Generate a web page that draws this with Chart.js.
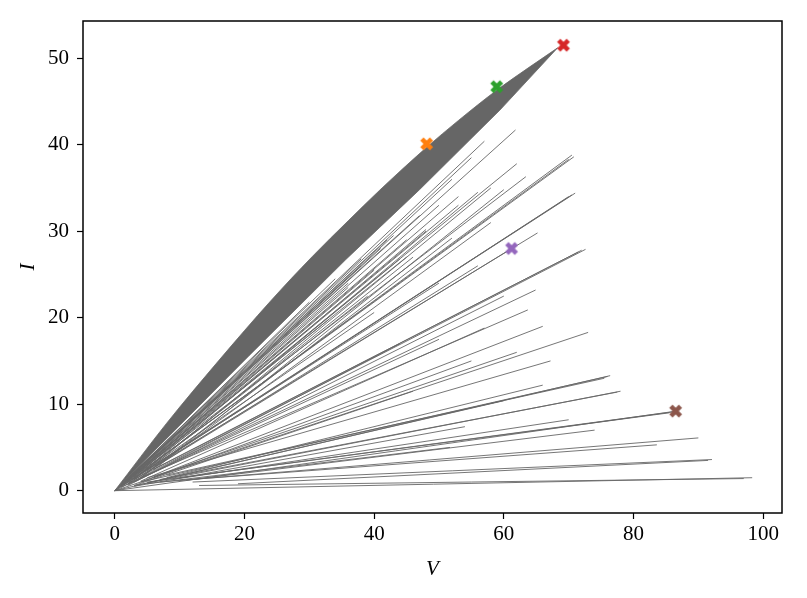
<!DOCTYPE html>
<html>
<head>
<meta charset="utf-8">
<script src="https://cdn.jsdelivr.net/npm/chart.js@4.4.0/dist/chart.umd.min.js"></script>
<style>
  html, body { margin: 0; padding: 0; background: #fff; }
  #wrap { width: 807px; height: 598px; }
</style>
</head>
<body>
<div id="wrap"><canvas id="chart" width="807" height="598"></canvas></div>
<script>
// upper and lower edge of the dense grey band
const bandUpperV = [0, 8, 16.1, 24, 30.5, 36, 40.8, 48.1, 53, 58.9, 64, 68.3];
const bandUpperI = [0, 7.8, 15.1, 21.9, 27.1, 31.2, 34.7, 39.7, 42.8, 46.3, 49.0, 51.2];
const bandLowerV = [0, 20.7, 35.6, 47.0, 59.4, 68.3];
const bandLowerI = [0, 15.6, 26.7, 34.8, 44.0, 51.2];

// single traces (start point -> end point)
const lineStartV = [0, 1, 0.5, 2, 1, 0, 2, 4, 1.5, 0, 3, 6, 1, 0, 3, 6, 2, 1, 4, 0, 5, 0, 4, 8, 3, 7, 0, 5, 10, 7, 10, 12, 19, 0, 13,
  3, 3, 5, 1, 2, 1, 2, 4, 3, 2, 6, 4, 1, 0.5, 2, 1,
  0.5, 1, 1.5, 2, 0.5, 1, 3, 2, 1, 2.5, 1.5, 3, 4, 2, 1, 5, 3, 2, 6, 4,
  2, 4, 6, 3, 8, 5, 9, 11];
const lineStartI = [0, 0.8, 0.3, 1.4, 0.6, 0, 1, 2.2, 0.9, 0, 1.5, 2.8, 0.5, 0, 1.3, 2.5, 0.8, 0.4, 1.5, 0, 1.5, 0, 1, 1.8, 0.6, 1.3, 0, 1, 1.5, 1, 1.2, 1, 0.8, 0, 0.6,
  1.5, 0.5, 0.8, 0.7, 1.2, 0.5, 0.8, 1.5, 1, 0.6, 1.5, 1, 0.7, 0.4, 1.3, 0.6,
  0.35, 0.7, 1.0, 1.4, 0.3, 0.6, 1.9, 1.2, 0.6, 1.5, 0.8, 1.6, 2.0, 1.0, 0.5, 2.3, 1.3, 0.8, 2.4, 1.5,
  0.7, 1.1, 1.6, 0.6, 1.5, 0.9, 1.3, 1.2];
const lineEndV = [61.8, 57, 55, 52, 62, 70.8, 70.5, 70, 63.4, 71, 70.5, 70, 65.2, 72.6, 72, 71.5, 61.2, 64.9, 63.7, 73, 67.2, 76.4, 76, 75.5, 78, 77.5, 86.6, 86, 85.5, 90, 83.6, 92.1, 91.5, 98.3, 97,
  40, 54, 51.7, 48, 45, 50, 56, 58, 44, 60, 55, 66, 42, 38, 36, 53,
  34, 38, 43, 47, 30, 41, 50, 45, 36, 53, 40, 48, 56, 44, 33, 58, 46, 39, 60, 52,
  50, 57, 62, 46, 66, 60, 70, 74];
const lineEndI = [41.7, 40.4, 38.5, 36, 37.8, 38.6, 38.8, 38.3, 36.3, 34.4, 34.2, 34, 29.8, 27.9, 27.8, 27.6, 28, 23.2, 20.9, 18.3, 15, 13.3, 13.2, 13, 11.5, 11.4, 9.2, 9.1, 9.0, 6.1, 5.3, 3.6, 3.5, 1.5, 1.4,
  20.6, 7.4, 5, 30, 27, 24, 26, 31, 17, 22.5, 15, 19, 29, 26, 24, 33,
  24.5, 26.8, 29.5, 31.8, 21.8, 28.0, 33.0, 29.0, 23.5, 34.0, 25.5, 30.2, 34.5, 26.8, 19.8, 35.0, 27.0, 22.5, 34.8, 29.2,
  17.5, 18.8, 16.0, 11.5, 12.2, 10.4, 8.2, 7.0];

// marked points
const markV = [48.1, 58.9, 69.2, 61.2, 86.5];
const markI = [40.1, 46.7, 51.5, 28.0, 9.2];
const markColors = ['#ff7f0e', '#2ca02c', '#d62728', '#9467bd', '#8c564b'];

const xTicks = [0, 20, 40, 60, 80, 100];
const yTicks = [0, 10, 20, 30, 40, 50];

const grey = 'rgb(102,102,102)';
const fontFam = "'Liberation Serif', 'DejaVu Serif', serif";

// filled "X" marker like matplotlib
function makeX(color) {
  const s = 18, c = document.createElement('canvas');
  c.width = s; c.height = s;
  const g = c.getContext('2d');
  g.translate(s / 2, s / 2);
  g.rotate(Math.PI / 4);
  g.fillStyle = color;
  const a = 13.5, w = 4.6;
  g.fillRect(-a / 2, -w / 2, a, w);
  g.fillRect(-w / 2, -a / 2, w, a);
  return c;
}

const datasets = [];

datasets.push({
  label: 'marks',
  data: markV.map((v, i) => ({ x: v, y: markI[i] })),
  showLine: false,
  pointStyle: markColors.map(makeX),
  pointRadius: 7,
  order: 0
});

for (let k = 0; k < lineStartV.length; k++) {
  datasets.push({
    data: [{ x: lineStartV[k], y: lineStartI[k] }, { x: lineEndV[k], y: lineEndI[k] }],
    borderColor: grey,
    borderWidth: 0.9,
    pointRadius: 0,
    fill: false,
    order: 1
  });
}

datasets.push({
  data: bandUpperV.map((v, i) => ({ x: v, y: bandUpperI[i] })),
  borderColor: grey,
  borderWidth: 0.8,
  backgroundColor: grey,
  pointRadius: 0,
  cubicInterpolationMode: 'monotone',
  fill: '+1',
  order: 2
});
datasets.push({
  data: bandLowerV.map((v, i) => ({ x: v, y: bandLowerI[i] })),
  borderColor: grey,
  borderWidth: 0.8,
  pointRadius: 0,
  fill: false,
  order: 2
});

// frame around the plot area (top and right sides too)
const framePlugin = {
  id: 'frame',
  afterDraw(chart) {
    const a = chart.chartArea, ctx = chart.ctx;
    ctx.save();
    ctx.strokeStyle = '#000';
    ctx.lineWidth = 1.5;
    ctx.strokeRect(a.left, a.top, a.right - a.left, a.bottom - a.top);
    ctx.restore();
  }
};

new Chart(document.getElementById('chart'), {
  type: 'line',
  data: { datasets },
  plugins: [framePlugin],
  options: {
    responsive: false,
    animation: false,
    events: [],
    layout: { padding: { left: 12, right: 25, top: 21, bottom: 12 } },
    plugins: { legend: { display: false }, tooltip: { enabled: false } },
    scales: {
      x: {
        type: 'linear',
        min: -4.9,
        max: 102.9,
        afterBuildTicks: (ax) => { ax.ticks = xTicks.map(v => ({ value: v })); },
        afterFit: (ax) => { ax.height = 73; },
        grid: { drawOnChartArea: false, drawTicks: true, tickLength: 6, tickWidth: 1.2, color: '#000' },
        border: { display: false },
        ticks: { color: '#000', font: { family: fontFam, size: 21 }, padding: 3, maxRotation: 0 },
        title: { display: true, text: 'V', color: '#000', font: { family: fontFam, size: 21, style: 'italic' }, padding: { top: 0 } }
      },
      y: {
        type: 'linear',
        min: -2.58,
        max: 54.3,
        afterBuildTicks: (ax) => { ax.ticks = yTicks.map(v => ({ value: v })); },
        afterFit: (ax) => { ax.width = 71; },
        grid: { drawOnChartArea: false, drawTicks: true, tickLength: 6, tickWidth: 1.2, color: '#000' },
        border: { display: false },
        ticks: { color: '#000', font: { family: fontFam, size: 21 }, padding: 8 },
        title: { display: true, text: 'I', color: '#000', font: { family: fontFam, size: 21, style: 'italic' }, padding: { bottom: 0 } }
      }
    }
  }
});
</script>
</body>
</html>
